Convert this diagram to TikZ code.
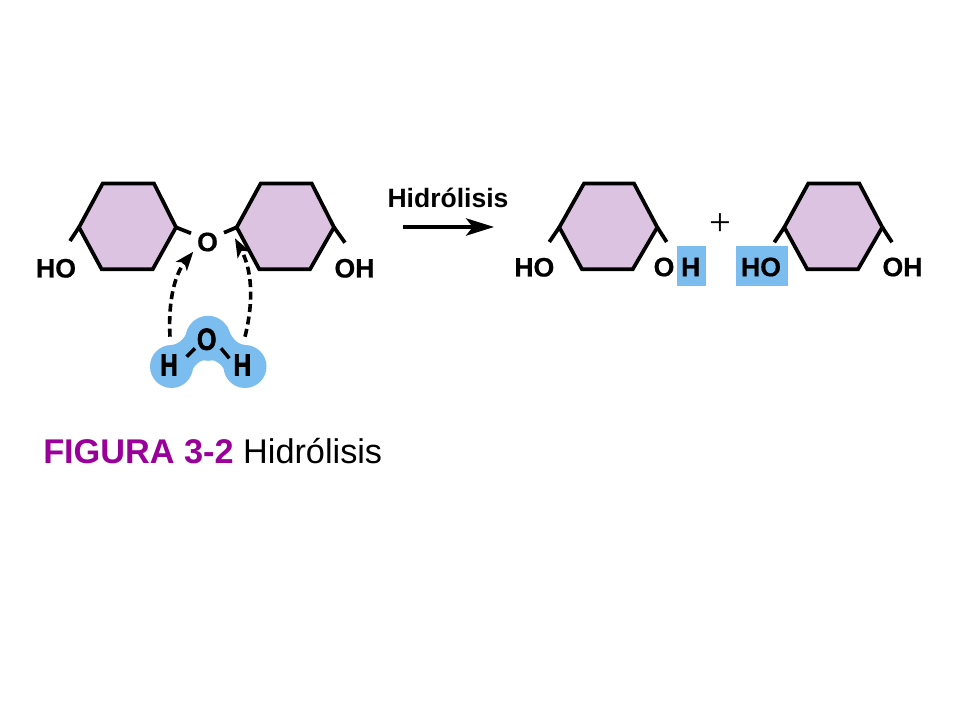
\documentclass[tikz,border=0pt]{standalone}
\usepackage{fontspec}
\setmainfont{Liberation Sans}
\newfontfamily\plusfont{Liberation Serif}
\newfontfamily\heavy[UprightFont=* Bold,FakeBold=0.6]{Liberation Sans}
\newfontfamily\wheavy[UprightFont=* Bold,FakeBold=2.2]{Liberation Sans}
\usetikzlibrary{arrows.meta}
\definecolor{ringfill}{HTML}{DCC3E1}
\definecolor{waterblue}{HTML}{7BBDEE}
\definecolor{capt}{HTML}{990099}
\tikzset{
  ring/.style={draw=black,fill=ringfill,line width=2.8pt,line join=miter},
  stub/.style={draw=black,line width=2.8pt},
  chem/.style={inner sep=0pt,font=\fontsize{20pt}{22pt}\selectfont\heavy},
  wlabel/.style={inner sep=0pt,font=\fontsize{23pt}{26pt}\selectfont\wheavy},
  wbond/.style={draw=black,line width=2.6pt},
  bluebox/.style={fill=waterblue,draw=none,inner sep=0pt},
  dasharrow/.style={draw=black,line width=2.7pt,dash pattern=on 6pt off 3.4pt,-{Stealth[length=14pt,width=10.5pt,inset=3.5pt]}},
  reactarrow/.style={draw=black,line width=2.3pt,-{Stealth[length=21pt,width=13pt,inset=5pt]}}
}
\begin{document}
\begin{tikzpicture}[x=0.75pt,y=-0.75pt]
\useasboundingbox (0,0) rectangle (960,720);
\fill[white] (0,0) rectangle (960,720);

% left disaccharide
\coordinate (a1) at (102.7,183.5); \coordinate (a2) at (154,183.5); \coordinate (a3) at (176,227.3);
\coordinate (a4) at (152.7,269.3); \coordinate (a5) at (101.7,269.3); \coordinate (a6) at (79,227.3);
\coordinate (as1) at (70,241); \coordinate (as2) at (191,233.3);
\draw[ring] (a1)--(a2)--(a3)--(a4)--(a5)--(a6)--cycle;
\draw[stub] (a6)--(as1); \draw[stub] (a3)--(as2);

\coordinate (b1) at (260.7,183.5); \coordinate (b2) at (311.7,183.5); \coordinate (b3) at (334,227.3);
\coordinate (b4) at (310,269.3); \coordinate (b5) at (259.3,269.3); \coordinate (b6) at (236.7,227.3);
\coordinate (bs1) at (224,232.7); \coordinate (bs2) at (345,242.7);
\draw[ring] (b1)--(b2)--(b3)--(b4)--(b5)--(b6)--cycle;
\draw[stub] (b6)--(bs1); \draw[stub] (b3)--(bs2);

\node[chem] (ho1) at (56,268.3) {HO};
\node[chem] (o1) at (207.5,242) {O};
\node[chem] (oh1) at (354.5,268.3) {OH};

% water
\fill[waterblue] (171.5,366.5) circle (21.5);
\fill[waterblue] (245,366.5) circle (21.5);
\fill[waterblue] (208,338.3) circle (22.5);
\fill[waterblue] (190,326) .. controls (186,337) and (180,344) .. (171.5,345)
  -- (171.5,388) -- (190,376) .. controls (193,365) and (200,359.5) .. (208,359.5)
  .. controls (216,359.5) and (224,365) .. (227,376) -- (245,388) -- (245,345)
  .. controls (236,344) and (231,337) .. (227,326) -- cycle;
\node[wlabel] (h1) at (169,365) {\scalebox{0.8}[1.0]{H}};
\node[wlabel] (o2) at (206.7,339.3) {\scalebox{0.82}[1.0]{O}};
\node[wlabel] (h2) at (242.3,365) {\scalebox{0.8}[1.0]{H}};
\coordinate (wb1) at (186.7,356.7); \coordinate (wb2) at (195,348.3);
\coordinate (wb3) at (221,348.3); \coordinate (wb4) at (229.3,358.3);
\draw[wbond] (wb1)--(wb2); \draw[wbond] (wb3)--(wb4);

% dashed arrows
\coordinate (d1s) at (170,336.7); \coordinate (d1e) at (193.3,251.7);
\coordinate (d2s) at (245,336.7); \coordinate (d2e) at (235,238.3);
\draw[dasharrow] (d1s) .. controls (168,300) and (175,274) .. (d1e);
\draw[dasharrow] (d2s) .. controls (254,300) and (252,270) .. (d2e);

% reaction arrow
\node[inner sep=0pt,font=\fontsize{19.9pt}{22pt}\selectfont\bfseries] (hyd) at (448,198.3) {Hidrólisis};
\coordinate (r1) at (402.7,227); \coordinate (r2) at (494,227);
\draw[reactarrow] (r1)--(r2);

% middle ring
\coordinate (c1) at (584,183.5); \coordinate (c2) at (634,183.5); \coordinate (c3) at (657.3,227.3);
\coordinate (c4) at (632.7,269.3); \coordinate (c5) at (582,269.3); \coordinate (c6) at (559.3,227.3);
\coordinate (cs1) at (549.3,242); \coordinate (cs2) at (666.7,242);
\draw[ring] (c1)--(c2)--(c3)--(c4)--(c5)--(c6)--cycle;
\draw[stub] (c6)--(cs1); \draw[stub] (c3)--(cs2);
\node[chem] (ho2) at (534.3,267.3) {HO};
\node[chem] (o3) at (664,267) {O};
\fill[bluebox] (677.3,246) rectangle (706,285.7);
\node[chem] (h3) at (690.7,267) {H};

\node[inner sep=0pt,font=\plusfont\fontsize{29pt}{30pt}\selectfont] (plus) at (720.3,224.5) {+};

% right ring
\fill[bluebox] (736,246) rectangle (788.3,285.7);
\coordinate (e1) at (808.3,183.5); \coordinate (e2) at (859.3,183.5); \coordinate (e3) at (882.3,227.3);
\coordinate (e4) at (858,269.3); \coordinate (e5) at (807.3,269.3); \coordinate (e6) at (784.3,227.3);
\coordinate (es1) at (774.3,242.3); \coordinate (es2) at (892,242.3);
\draw[ring] (e1)--(e2)--(e3)--(e4)--(e5)--(e6)--cycle;
\draw[stub] (e6)--(es1); \draw[stub] (e3)--(es2);
\node[chem] (ho3) at (761,267) {HO};
\node[chem] (oh3) at (902.5,267) {OH};

% caption
\node[anchor=base west,inner sep=0pt,font=\fontsize{25.7pt}{30pt}\selectfont] (cap) at (43,463)
  {\textcolor{capt}{\textbf{FIGURA 3-2}} Hidrólisis};
\end{tikzpicture}
\end{document}
